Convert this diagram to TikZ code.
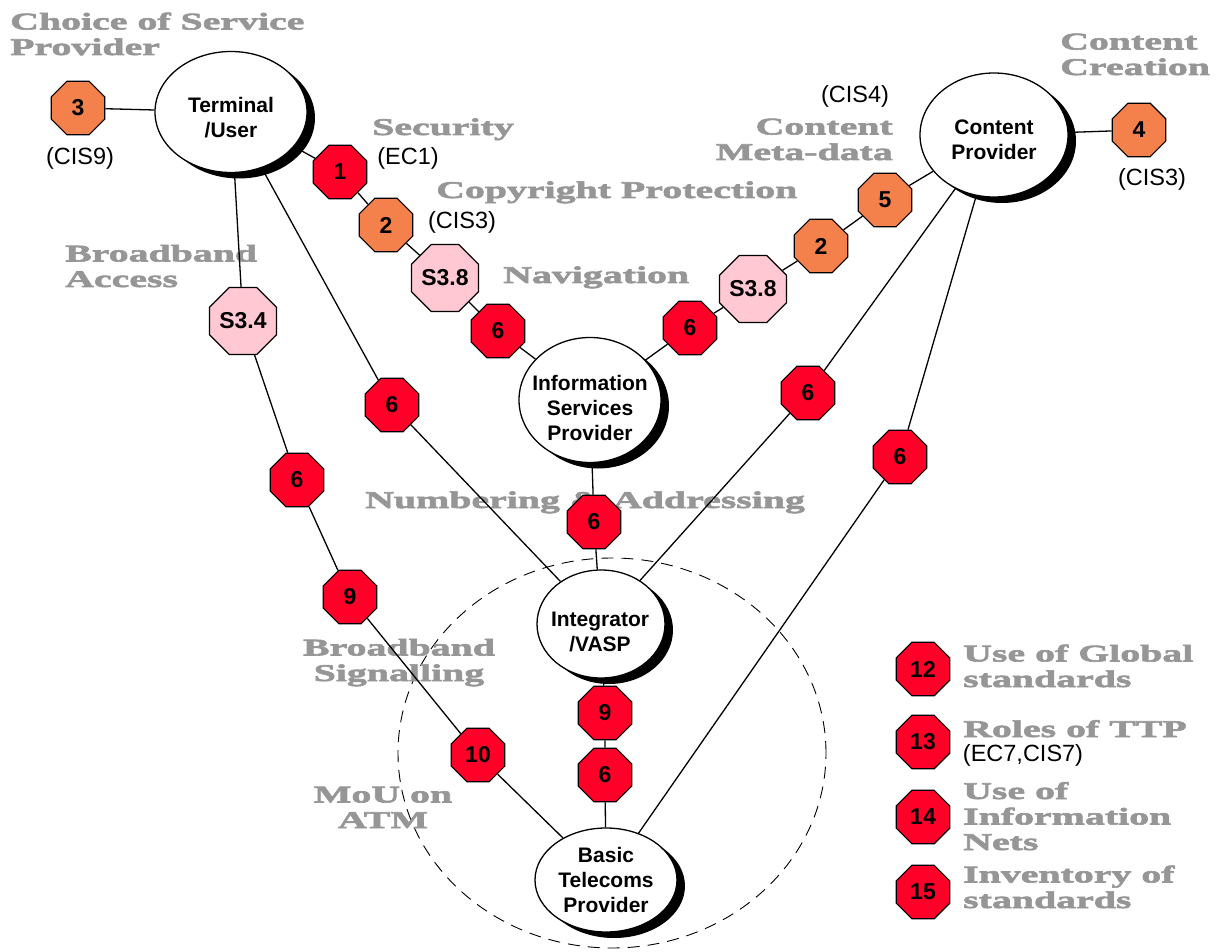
\documentclass[tikz,border=0pt]{standalone}
\usepackage{fontspec}
\setmainfont{Liberation Sans}
\newfontfamily\widefont{Liberation Serif}[FakeStretch=1.66,FakeBold=2.6]
\usetikzlibrary{shapes.geometric,shadows}
\definecolor{ored}{RGB}{255,0,40}
\definecolor{oorg}{RGB}{244,128,75}
\definecolor{opink}{RGB}{255,200,210}
\definecolor{lgray}{RGB}{150,150,150}
\tikzset{
  oct/.style={regular polygon, regular polygon sides=8, minimum size=58pt, inner sep=0pt,
    draw=black, line width=1.2pt, font=\fontsize{23}{23}\selectfont\bfseries},
  octr/.style={oct, fill=ored},
  octo/.style={oct, fill=oorg},
  octp/.style={oct, fill=opink},
  ent/.style={ellipse, draw=black, line width=1.3pt, fill=white, inner sep=0pt,
    drop shadow={shadow xshift=8pt, shadow yshift=-6pt, fill=black, opacity=1}},
  etext/.style={inner sep=0pt, align=center, font=\fontsize{21}{25}\selectfont\bfseries},
  glab/.style={text=lgray, inner sep=0pt, font=\widefont\bfseries\fontsize{24}{25.5}\selectfont},
  blab/.style={inner sep=0pt, font=\fontsize{23.5}{26}\selectfont},
  conn/.style={line width=1.3pt},
  mou/.style={ellipse, draw=black, line width=0.9pt, dash pattern=on 12pt off 8pt}
}
\begin{document}
\begin{tikzpicture}[x=1pt,y=-1pt]
\useasboundingbox (0,0) rectangle (1216,952);
% dashed MoU region
\node[mou, minimum width=428pt, minimum height=390pt] (mouarea) at (612,753) {};
% gray labels (multi-line: base = last line)
\node[glab, anchor=base west, align=left] (lchoice) at (10,55) {Choice of Service\\Provider};
\node[glab, anchor=base west] (lsec) at (372,135) {Security};
\node[glab, anchor=base west] (lcopy) at (436,198) {Copyright Protection};
\node[glab, anchor=base west] (lnav) at (503,283) {Navigation};
\node[glab, anchor=base east, align=right] (lmeta) at (893,160) {Content\\Meta-data};
\node[glab, anchor=base west, align=left] (lcreat) at (1060,75) {Content\\Creation};
\node[glab, anchor=base west, align=left] (lbba) at (65,287) {Broadband\\Access};
\node[glab, anchor=base west] (lnum) at (365,508) {Numbering \& Addressing};
\node[glab, anchor=base, align=center] (lbbs) at (399,681) {Broadband\\Signalling};
\node[glab, anchor=base, align=center] (latm) at (383,828) {MoU on\\ATM};
\node[glab, anchor=base west, align=left] (l12) at (963,687) {Use of Global\\standards};
\node[glab, anchor=base west, align=left] (l13) at (963,737) {Roles of TTP};
\node[glab, anchor=base west, align=left] (l14) at (963,850) {Use of\\Information\\Nets};
\node[glab, anchor=base west, align=left] (l15) at (963,908) {Inventory of\\standards};
% black labels
\node[blab] (tcis9) at (80,158) {(CIS9)};
\node[blab] (tec1) at (408,158) {(EC1)};
\node[blab] (tcis3a) at (462,222) {(CIS3)};
\node[blab] (tcis4) at (855,96) {(CIS4)};
\node[blab] (tcis3b) at (1152,179) {(CIS3)};
\node[blab] (tec7) at (1023,755) {(EC7,CIS7)};
% entities
\node[ent, minimum width=152pt, minimum height=121pt] (term) at (231,112) {};
\node[etext] (termt) at (231,118) {Terminal\\/User};
\node[ent, minimum width=148pt, minimum height=124pt] (cp) at (994,135) {};
\node[etext] (cpt) at (994,140) {Content\\Provider};
\node[ent, minimum width=142pt, minimum height=125pt] (isp) at (590,400) {};
\node[etext] (ispt) at (590,408) {Information\\Services\\Provider};
\node[ent, minimum width=128pt, minimum height=108pt] (integ) at (601,624) {};
\node[etext] (integt) at (600,632) {Integrator\\/VASP};
\node[ent, minimum width=142pt, minimum height=104pt] (btp) at (606,880) {};
\node[etext] (btpt) at (606,880) {Basic\\Telecoms\\Provider};
% octagons
\node[octo] (o3) at (78,108) {3};
\node[octr] (o1) at (340,172) {1};
\node[octo] (o2a) at (386,225) {2};
\node[octp] (s38a) at (445,278) {S3.8};
\node[octr] (o6a) at (498,331) {6};
\node[octr] (o6b) at (690,328) {6};
\node[octp] (s38b) at (753,289) {S3.8};
\node[octo] (o2b) at (821,246) {2};
\node[octo] (o5) at (885,200) {5};
\node[octo] (o4) at (1139,130) {4};
\node[octp] (s34) at (243,321) {S3.4};
\node[octr] (o6c) at (297,480) {6};
\node[octr] (o9a) at (350,597) {9};
\node[octr] (o10) at (478,755) {10};
\node[octr] (o6d) at (392,405) {6};
\node[octr] (o6e) at (594,522) {6};
\node[octr] (o9b) at (605,713) {9};
\node[octr] (o6f) at (605,775) {6};
\node[octr] (o6g) at (808,393) {6};
\node[octr] (o6h) at (900,457) {6};
\node[octr] (o12) at (923,669) {12};
\node[octr] (o13) at (923,742) {13};
\node[octr] (o14) at (923,817) {14};
\node[octr] (o15) at (923,892) {15};
% connectors
\draw[conn] (o3) -- (term);
\draw[conn] (term) -- (o1) -- (o2a) -- (s38a) -- (o6a) -- (isp);
\draw[conn] (isp) -- (o6b) -- (s38b) -- (o2b) -- (o5) -- (cp);
\draw[conn] (cp) -- (o4);
\draw[conn] (term) -- (s34) -- (o6c) -- (o9a) -- (o10) -- (btp);
\draw[conn] (term) -- (o6d) -- (integ);
\draw[conn] (isp) -- (o6e) -- (integ);
\draw[conn] (integ) -- (o9b) -- (o6f) -- (btp);
\draw[conn] (cp) -- (o6g) -- (integ);
\draw[conn] (cp) -- (o6h) -- (btp);
\end{tikzpicture}
\end{document}
